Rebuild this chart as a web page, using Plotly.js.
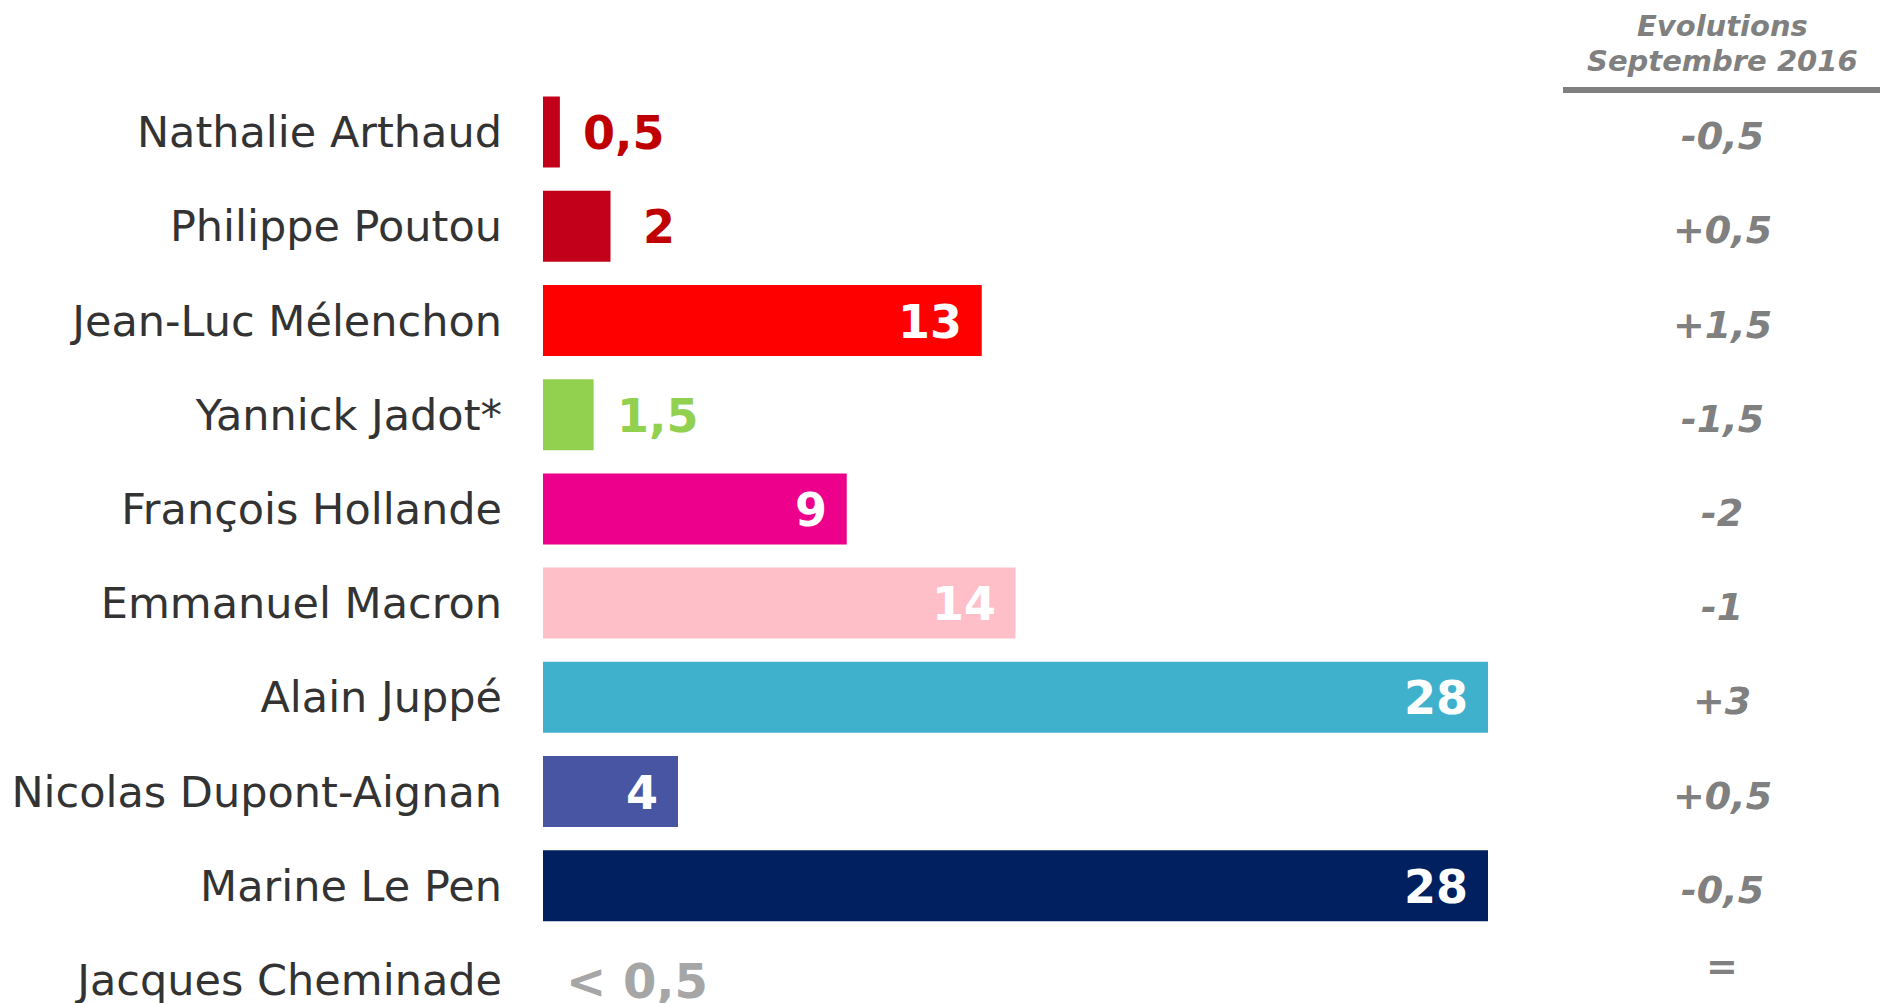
<!DOCTYPE html>
<html>
<head>
<meta charset="utf-8">
<script src="https://cdn.plot.ly/plotly-3.0.1.min.js"></script>
<style>
  html, body { margin: 0; padding: 0; background: #ffffff; }
  #chart { width: 1880px; height: 1003px; }
</style>
</head>
<body>
<div id="chart"></div>
<script>
// ---- Data ----
const candidates = [
  "Nathalie Arthaud", "Philippe Poutou", "Jean-Luc Mélenchon", "Yannick Jadot*",
  "François Hollande", "Emmanuel Macron", "Alain Juppé", "Nicolas Dupont-Aignan",
  "Marine Le Pen", "Jacques Cheminade"
];
const scores = [0.5, 2, 13, 1.5, 9, 14, 28, 4, 28, null];
const scoreLabels = ["0,5", "2", "13", "1,5", "9", "14", "28", "4", "28", "< 0,5"];
const evolutions = ["-0,5", "+0,5", "+1,5", "-1,5", "-2", "-1", "+3", "+0,5", "-0,5", "="];
const barColors = ["#C3001A", "#C3001A", "#FF0000", "#92D050", "#EC008C",
                   "#FFBFC8", "#40B1CD", "#4755A3", "#002060", "#A6A6A6"];
const outsideLabelColors = ["#C00000", "#C00000", "#FFFFFF", "#92D050", "#FFFFFF",
                            "#FFFFFF", "#FFFFFF", "#FFFFFF", "#FFFFFF", "#A6A6A6"];
const evolutionHeader = ["Evolutions", "Septembre 2016"];

// ---- Layout constants ----
const W = 1880, H = 1003;
const marginL = 543, marginT = 85;
const pxPerUnit = 33.75;
const plotW = W - marginL, plotH = H - marginT;
const xMax = plotW / pxPerUnit;
const rowPx = 94.2;
const yBottom = -0.5 + plotH / rowPx;
const evoX = (1722 - marginL) / plotW;
const toPaperY = py => (H - py) / plotH;
const FONT = "DejaVu Sans, Verdana, sans-serif";

const trace = {
  type: "bar",
  orientation: "h",
  y: candidates,
  x: scores,
  marker: { color: barColors },
  hoverinfo: "skip",
  cliponaxis: false
};

const annotations = [];
candidates.forEach((c, i) => {
  const v = scores[i];
  const inside = v !== null && v >= 3;
  annotations.push({
    xref: "x", yref: "y",
    x: v === null ? 0 : v, y: c,
    text: scoreLabels[i],
    showarrow: false,
    xanchor: inside ? "right" : "left",
    xshift: inside ? -18 : (v === 2 ? 30 : 21),
    yshift: -1,
    font: { family: FONT, size: v === null ? 48 : 46, color: outsideLabelColors[i], weight: "bold" }
  });
  annotations.push({
    xref: "paper", yref: "y",
    x: evoX, y: c,
    text: "<b><i>" + evolutions[i] + "</i></b>",
    showarrow: false,
    xanchor: "center",
    yshift: evolutions[i] === "=" ? 14 : -4,
    font: { family: FONT, size: 38, color: "#808080" }
  });
});
annotations.push({
  xref: "paper", yref: "paper", x: evoX, y: toPaperY(26),
  text: "<b><i>" + evolutionHeader[0] + "</i></b>", showarrow: false,
  xanchor: "center", yanchor: "middle",
  font: { family: FONT, size: 29, color: "#808080" }
});
annotations.push({
  xref: "paper", yref: "paper", x: evoX, y: toPaperY(61),
  text: "<b><i>" + evolutionHeader[1] + "</i></b>", showarrow: false,
  xanchor: "center", yanchor: "middle",
  font: { family: FONT, size: 29, color: "#808080" }
});

const layout = {
  width: W, height: H,
  margin: { l: marginL, r: 0, t: marginT, b: 0, pad: 0 },
  paper_bgcolor: "#ffffff",
  plot_bgcolor: "#ffffff",
  showlegend: false,
  bargap: 0.246,
  xaxis: {
    range: [0, xMax], visible: false, fixedrange: true
  },
  yaxis: {
    type: "category",
    range: [yBottom, -0.5],
    showgrid: false, zeroline: false, showline: false,
    ticks: "", ticklabelstandoff: 40,
    tickfont: { family: FONT, size: 43, color: "#333333" },
    fixedrange: true
  },
  shapes: [{
    type: "line", xref: "paper", yref: "paper",
    x0: (1563 - marginL) / plotW, x1: 1.0,
    y0: toPaperY(90), y1: toPaperY(90),
    line: { color: "#808080", width: 6 }
  }],
  annotations: annotations
};

Plotly.newPlot("chart", [trace], layout, { displayModeBar: false, staticPlot: true });
</script>
</body>
</html>
